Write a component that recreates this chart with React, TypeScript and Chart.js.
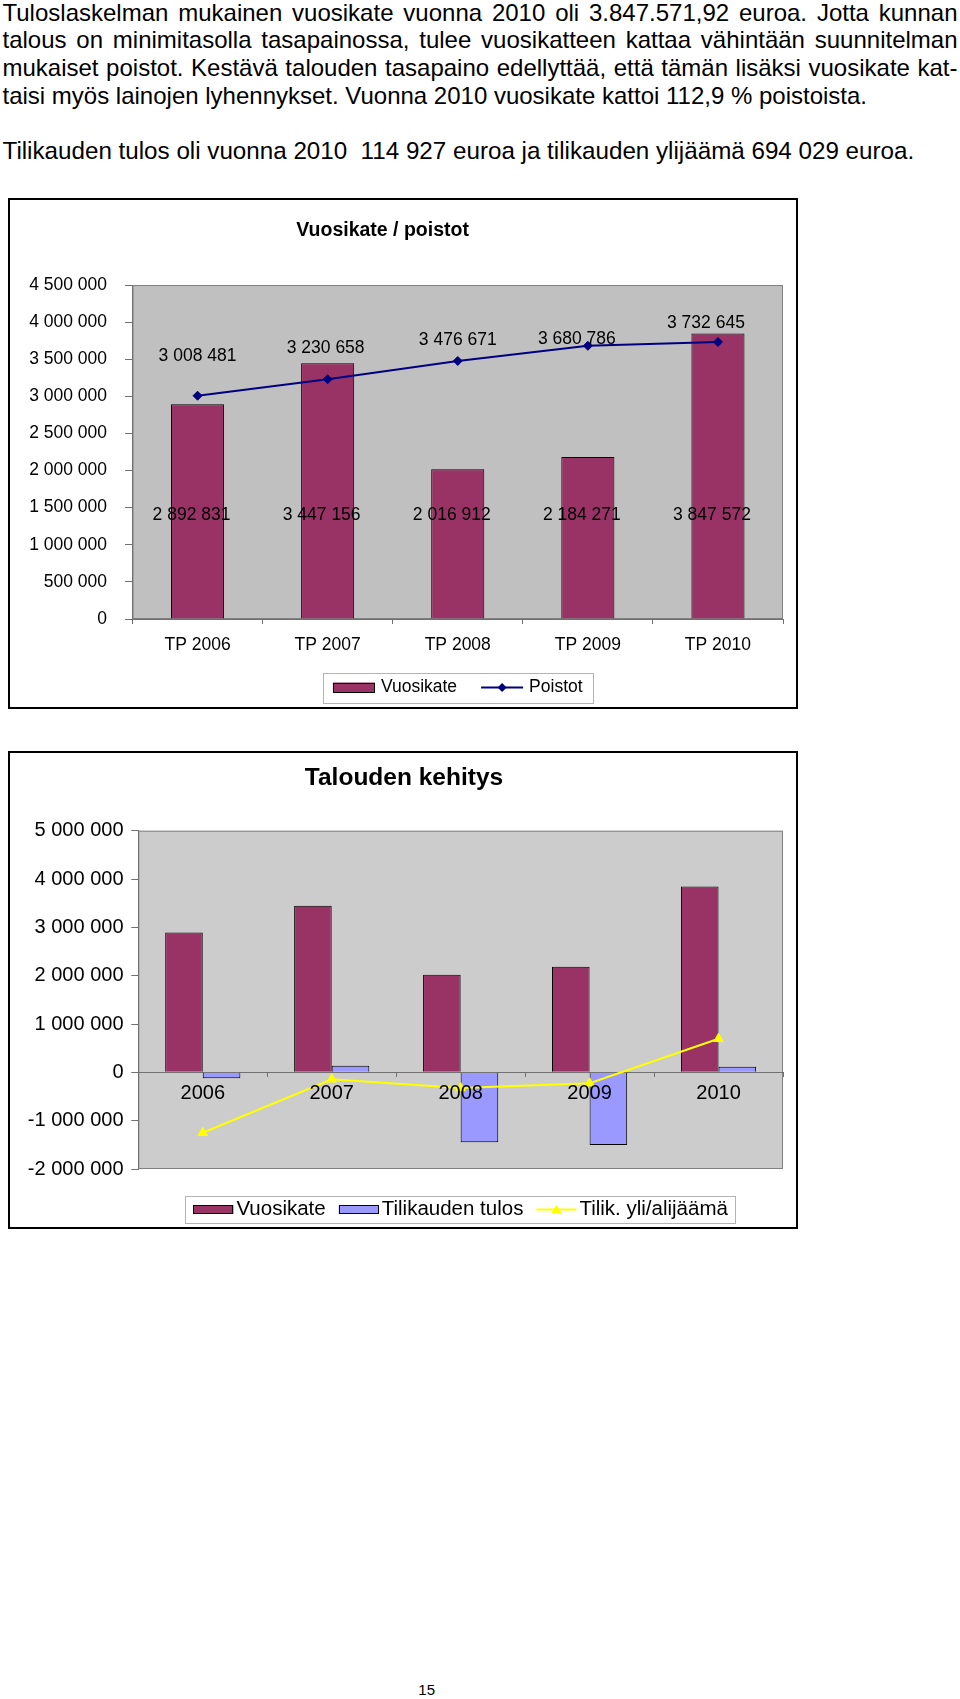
import React, { useEffect, useRef } from 'react';
import { Chart, registerables } from 'chart.js';

Chart.register(...registerables);

const FONT = '"Liberation Sans", Arial, Helvetica, sans-serif';

// ---------- text ----------
const paragraphLines = [
  'Tuloslaskelman mukainen vuosikate vuonna 2010 oli 3.847.571,92 euroa. Jotta kunnan',
  'talous on minimitasolla tasapainossa, tulee vuosikatteen kattaa vähintään suunnitelman',
  'mukaiset poistot. Kestävä talouden tasapaino edellyttää, että tämän lisäksi vuosikate kat-',
  'taisi myös lainojen lyhennykset. Vuonna 2010 vuosikate kattoi 112,9 % poistoista.',
];
const summaryLine = 'Tilikauden tulos oli vuonna 2010  114 927 euroa ja tilikauden ylijäämä 694 029 euroa.';
const pageNumber = '15';

// ---------- chart 1: Vuosikate / poistot ----------
const chart1Title = 'Vuosikate / poistot';
const categories1 = ['TP 2006', 'TP 2007', 'TP 2008', 'TP 2009', 'TP 2010'];
const vuosikate = [2892831, 3447156, 2016912, 2184271, 3847572];
const poistot = [3008481, 3230658, 3476671, 3680786, 3732645];
const axis1 = { min: 0, max: 4500000, step: 500000 };

// ---------- chart 2: Talouden kehitys ----------
const chart2Title = 'Talouden kehitys';
const categories2 = ['2006', '2007', '2008', '2009', '2010'];
const tilikaudenTulos = [-122000, 136000, -1448000, -1503000, 114927];
const ylijaama = [-1249000, -143000, -322000, -226000, 694029];
const axis2 = { min: -2000000, max: 5000000, step: 1000000 };

const fmt = (v: number) => {
  const s = Math.abs(Math.round(v)).toString().replace(/\B(?=(\d{3})+(?!\d))/g, ' ');
  return (v < 0 ? '-' : '') + s;
};

// ---------- plugins ----------
const plotFrame = {
  id: 'plotFrame',
  beforeDraw(chart: any, _a: any, opts: any) {
    const { ctx, chartArea: a } = chart;
    ctx.save();
    ctx.fillStyle = opts.fill;
    ctx.fillRect(a.left, a.top, a.right - a.left, a.bottom - a.top);
    ctx.strokeStyle = opts.stroke;
    ctx.lineWidth = 1;
    ctx.strokeRect(a.left + 0.5, a.top + 0.5, a.right - a.left - 1, a.bottom - a.top - 1);
    ctx.restore();
  },
};

const customTitle = {
  id: 'customTitle',
  afterDraw(chart: any, _a: any, opts: any) {
    const { ctx } = chart;
    ctx.save();
    ctx.font = `bold ${opts.size}px ${FONT}`;
    ctx.fillStyle = '#000';
    ctx.textAlign = 'center';
    ctx.textBaseline = 'alphabetic';
    ctx.fillText(opts.text, opts.x, opts.y);
    ctx.restore();
  },
};

function drawMarker(ctx: CanvasRenderingContext2D, kind: string, x: number, y: number, r: number, color: string) {
  ctx.fillStyle = color;
  ctx.beginPath();
  if (kind === 'diamond') {
    ctx.moveTo(x, y - r);
    ctx.lineTo(x + r, y);
    ctx.lineTo(x, y + r);
    ctx.lineTo(x - r, y);
  } else {
    const h = r * 1.5;
    ctx.moveTo(x, y - h * 0.6);
    ctx.lineTo(x + r * 0.866 * 1.15, y + h * 0.45);
    ctx.lineTo(x - r * 0.866 * 1.15, y + h * 0.45);
  }
  ctx.closePath();
  ctx.fill();
}

const boxLegend = {
  id: 'boxLegend',
  afterDraw(chart: any, _a: any, opts: any) {
    const { ctx, chartArea: a } = chart;
    ctx.save();
    ctx.font = `${opts.size}px ${FONT}`;
    const widths = opts.items.map((it: any) => ctx.measureText(it.label).width);
    let total = opts.pad * 2 + opts.itemGap * (opts.items.length - 1);
    widths.forEach((w: number) => (total += opts.symW + opts.symGap + w));
    const left = (a.left + a.right) / 2 - total / 2;
    const top = a.bottom + opts.offset;
    ctx.strokeStyle = opts.borderColor;
    ctx.lineWidth = 1;
    ctx.strokeRect(Math.round(left) + 0.5, Math.round(top) + 0.5, Math.round(total), Math.round(opts.height));
    const cy = top + opts.height / 2;
    let x = left + opts.pad;
    opts.items.forEach((it: any, i: number) => {
      if (it.kind === 'rect') {
        ctx.fillStyle = it.color;
        ctx.fillRect(x, cy - opts.symH / 2, opts.symW, opts.symH);
        ctx.strokeStyle = '#000';
        ctx.lineWidth = 1;
        ctx.strokeRect(Math.round(x) + 0.5, Math.round(cy - opts.symH / 2) + 0.5, opts.symW - 1, opts.symH - 1);
      } else {
        ctx.strokeStyle = it.color;
        ctx.lineWidth = 2;
        ctx.beginPath();
        ctx.moveTo(x, cy);
        ctx.lineTo(x + opts.symW, cy);
        ctx.stroke();
        drawMarker(ctx, it.marker, x + opts.symW / 2, cy, it.markerR, it.color);
      }
      x += opts.symW + opts.symGap;
      ctx.fillStyle = '#000';
      ctx.textAlign = 'left';
      ctx.textBaseline = 'middle';
      ctx.fillText(it.label, x, cy);
      x += widths[i] + opts.itemGap;
    });
    ctx.restore();
  },
};

// small manual nudges of the value labels (as in the original, labels were dragged)
const poistotLabelNudge = [
  [0, -40],
  [-2, -31],
  [0, -21],
  [-11, -7],
  [-12, -19],
];

const valueLabels = {
  id: 'valueLabels',
  afterDatasetsDraw(chart: any, _a: any, opts: any) {
    const { ctx } = chart;
    const y = chart.scales.y;
    const barMeta = chart.getDatasetMeta(1);
    const lineMeta = chart.getDatasetMeta(0);
    ctx.save();
    ctx.font = `${opts.size}px ${FONT}`;
    ctx.fillStyle = '#000';
    ctx.textAlign = 'center';
    ctx.textBaseline = 'middle';
    barMeta.data.forEach((bar: any, i: number) => {
      ctx.fillText(fmt(vuosikate[i]), bar.x + opts.barDx, y.getPixelForValue(opts.barLabelLevel));
    });
    lineMeta.data.forEach((pt: any, i: number) => {
      const [dx, dy] = poistotLabelNudge[i];
      ctx.fillText(fmt(poistot[i]), pt.x + dx, pt.y + dy);
    });
    ctx.restore();
  },
};

function ChartOne() {
  const ref = useRef<HTMLCanvasElement>(null);
  useEffect(() => {
    if (!ref.current) return;
    const chart = new Chart(ref.current, {
      type: 'bar',
      data: {
        labels: categories1,
        datasets: [
          {
            type: 'line',
            label: 'Poistot',
            data: poistot,
            borderColor: '#000080',
            backgroundColor: '#000080',
            borderWidth: 2,
            pointStyle: 'rectRot',
            pointRadius: 4.5,
            pointBorderWidth: 1,
            pointBackgroundColor: '#000080',
            pointBorderColor: '#000080',
            tension: 0,
            order: 0,
          } as any,
          {
            type: 'bar',
            label: 'Vuosikate',
            data: vuosikate,
            backgroundColor: '#993366',
            borderColor: '#000000',
            borderWidth: 1,
            categoryPercentage: 0.408,
            barPercentage: 1,
            order: 1,
          },
        ],
      },
      options: {
        responsive: false,
        animation: false,
        devicePixelRatio: 1,
        layout: { padding: { left: 0, right: 13, top: 85, bottom: 48 } },
        plugins: {
          legend: { display: false },
          title: { display: false },
          tooltip: { enabled: false },
          plotFrame: { fill: '#C0C0C0', stroke: '#808080' },
          customTitle: { text: chart1Title, size: 19.5, x: 372.6, y: 35.7 },
          boxLegend: {
            size: 17.5,
            offset: 53.7,
            height: 29.6,
            pad: 10,
            symW: 42,
            symH: 10,
            symGap: 6,
            itemGap: 24,
            borderColor: '#B4B4B4',
            items: [
              { label: 'Vuosikate', kind: 'rect', color: '#993366' },
              { label: 'Poistot', kind: 'line', color: '#000080', marker: 'diamond', markerR: 4.5 },
            ],
          },
          valueLabels: { size: 17.5, barDx: -6, barLabelLevel: 1400000 },
        } as any,
        scales: {
          x: {
            grid: { drawOnChartArea: false, drawTicks: true, tickLength: 5, color: '#707070', offset: true },
            border: { color: '#707070' },
            ticks: { font: { family: FONT, size: 17.5 }, color: '#000', padding: 10.5, maxRotation: 0 },
            afterFit: (s: any) => {
              s.height = 40;
            },
          },
          y: {
            min: axis1.min,
            max: axis1.max,
            ticks: {
              stepSize: axis1.step,
              callback: (v: any) => fmt(Number(v)),
              font: { family: FONT, size: 17.5 },
              color: '#000',
              padding: 18,
            },
            grid: { drawOnChartArea: false, drawTicks: true, tickLength: 7.5, color: '#707070' },
            border: { color: '#707070' },
            afterFit: (s: any) => {
              s.width = 122.5;
            },
          },
        },
      },
      plugins: [plotFrame, customTitle, boxLegend, valueLabels],
    });
    return () => chart.destroy();
  }, []);
  return <canvas ref={ref} width={786} height={507} style={{ width: 786, height: 507, display: 'block' }} />;
}

function ChartTwo() {
  const ref = useRef<HTMLCanvasElement>(null);
  useEffect(() => {
    if (!ref.current) return;
    const chart = new Chart(ref.current, {
      type: 'bar',
      data: {
        labels: categories2,
        datasets: [
          {
            type: 'line',
            label: 'Tilik. yli/alijäämä',
            data: ylijaama,
            borderColor: '#FFFF00',
            backgroundColor: '#FFFF00',
            borderWidth: 2,
            pointStyle: 'triangle',
            pointRadius: 5.5,
            pointBorderWidth: 1,
            pointBackgroundColor: '#FFFF00',
            pointBorderColor: '#FFFF00',
            tension: 0,
            order: 0,
          } as any,
          {
            type: 'bar',
            label: 'Vuosikate',
            data: vuosikate,
            backgroundColor: '#993366',
            borderColor: '#000000',
            borderWidth: 1,
            categoryPercentage: 0.583,
            barPercentage: 1,
            order: 1,
          },
          {
            type: 'bar',
            label: 'Tilikauden tulos',
            data: tilikaudenTulos,
            backgroundColor: '#9999FF',
            borderColor: '#000000',
            borderWidth: 1,
            categoryPercentage: 0.583,
            barPercentage: 1,
            order: 2,
          },
        ],
      },
      options: {
        responsive: false,
        animation: false,
        devicePixelRatio: 1,
        layout: { padding: { left: 0, right: 13, top: 77.7, bottom: 58 } },
        plugins: {
          legend: { display: false },
          title: { display: false },
          tooltip: { enabled: false },
          plotFrame: { fill: '#CCCCCC', stroke: '#808080' },
          customTitle: { text: chart2Title, size: 24.5, x: 394, y: 32 },
          boxLegend: {
            size: 20.5,
            offset: 27,
            height: 27,
            pad: 8,
            symW: 40,
            symH: 9,
            symGap: 3,
            itemGap: 13,
            borderColor: '#B4B4B4',
            items: [
              { label: 'Vuosikate', kind: 'rect', color: '#993366' },
              { label: 'Tilikauden tulos', kind: 'rect', color: '#9999FF' },
              { label: 'Tilik. yli/alijäämä', kind: 'line', color: '#FFFF00', marker: 'triangle', markerR: 5 },
            ],
          },
        } as any,
        scales: {
          x: {
            position: { y: 0 } as any,
            grid: { drawOnChartArea: false, drawTicks: true, tickLength: 4, color: '#707070', offset: true },
            border: { color: '#707070' },
            ticks: { z: 1, font: { family: FONT, size: 20 }, color: '#000', padding: 5.5, maxRotation: 0 },
            afterFit: (s: any) => {
              s.height = 0;
            },
          },
          y: {
            min: axis2.min,
            max: axis2.max,
            ticks: {
              stepSize: axis2.step,
              callback: (v: any) => fmt(Number(v)),
              font: { family: FONT, size: 20 },
              color: '#000',
              padding: 7.8,
            },
            grid: { drawOnChartArea: false, drawTicks: true, tickLength: 7, color: '#707070' },
            border: { color: '#707070' },
            afterFit: (s: any) => {
              s.width = 128.3;
            },
          },
        },
      },
      plugins: [plotFrame, customTitle, boxLegend],
    });
    return () => chart.destroy();
  }, []);
  return <canvas ref={ref} width={786} height={474} style={{ width: 786, height: 474, display: 'block' }} />;
}

export default function App() {
  const lineH = 27.7;
  const textTop = -1.5;
  return (
    <div
      style={{
        position: 'absolute',
        left: 0,
        top: 0,
        width: 960,
        height: 1699,
        background: '#fff',
        color: '#000',
        fontFamily: FONT,
        overflow: 'hidden',
      }}
    >
      {paragraphLines.map((t, i) => (
        <div
          key={i}
          style={{
            position: 'absolute',
            left: 2.5,
            top: textTop + i * lineH,
            width: 955,
            fontSize: 24,
            lineHeight: `${lineH}px`,
            textAlign: 'justify',
            textAlignLast: i < 3 ? 'justify' : 'left',
          }}
        >
          {t}
        </div>
      ))}
      <div
        style={{
          position: 'absolute',
          left: 2.5,
          top: textTop + 5 * lineH,
          fontSize: 24.2,
          lineHeight: `${lineH}px`,
          whiteSpace: 'pre',
        }}
      >
        {summaryLine}
      </div>

      <div
        style={{
          position: 'absolute',
          left: 8,
          top: 198,
          width: 790,
          height: 511,
          border: '2px solid #000',
          boxSizing: 'border-box',
        }}
      >
        <ChartOne />
      </div>

      <div
        style={{
          position: 'absolute',
          left: 8,
          top: 751,
          width: 790,
          height: 478,
          border: '2px solid #000',
          boxSizing: 'border-box',
        }}
      >
        <ChartTwo />
      </div>

      <div
        style={{
          position: 'absolute',
          left: 376.7,
          width: 100,
          top: 1680,
          fontSize: 15,
          lineHeight: '20px',
          textAlign: 'center',
        }}
      >
        {pageNumber}
      </div>
    </div>
  );
}
